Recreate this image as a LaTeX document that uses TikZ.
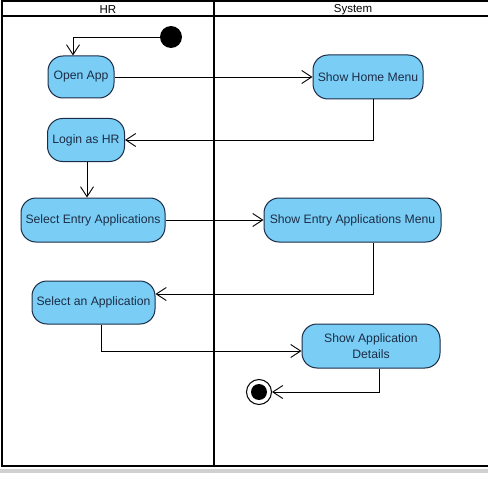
\documentclass[tikz,border=0pt]{standalone}
\usepackage{fontspec}
\setmainfont{Liberation Sans}
\usetikzlibrary{arrows.meta}
\definecolor{actfill}{RGB}{122,206,245}
\definecolor{actline}{RGB}{28,44,70}
\definecolor{strip}{RGB}{208,208,208}

\begin{document}
\begin{tikzpicture}[x=1pt,y=-1pt,>={Straight Barb[length=10pt,width=13pt]}]
      \tikzstyle{lane} = [line width=2pt]
      \tikzstyle{act} = [rectangle, rounded corners=15pt, draw=actline, line width=1pt,
        fill=actfill, text=actline, font=\fontsize{12.2}{16.5}\selectfont, align=center, inner sep=2pt]
      \tikzstyle{flow} = [line width=0.9pt, black]
      \useasboundingbox (0,0) rectangle (488,487);
      % swimlanes
      \fill [strip] (0,469) rectangle (488,473);
      \draw [lane] (488,1)--(2,1)--(2,466)--(488,466);
      \draw [lane] (2,16)--(488,16);
      \draw [lane] (214,1)--(214,466);
      \node (hr) at (108,9.5) {\fontsize{11.5}{13}\selectfont HR};
      \node (sys) at (353,9.5) {\fontsize{11.5}{13}\selectfont System};
      % start and end
      \node (start) [circle, fill=black, minimum size=22pt, inner sep=0pt] at (171,37) {};
      \node (end) [circle, draw, line width=1pt, fill=white, minimum size=25pt, inner sep=0pt] at (259,392) {};
      \node (endin) [circle, fill=black, minimum size=16pt, inner sep=0pt] at (end.center) {};
      % HR
      \node (open) [act, minimum width=66pt, minimum height=42pt] at (81,77) {Open App};
      \node (login) [act, minimum width=77pt, minimum height=43pt] at (86,140) {Login as HR};
      \node (entry) [act, minimum width=144pt, minimum height=44pt] at (93,220) {Select Entry Applications};
      \node (selapp) [act, minimum width=123pt, minimum height=43pt] at (93.5,302.5) {Select an Application};
      % System
      \node (home) [act, minimum width=110pt, minimum height=44pt] at (368,77) {Show Home Menu};
      \node (entrymenu) [act, minimum width=177pt, minimum height=44pt] at (352.5,220) {Show Entry Applications Menu};
      \node (details) [act, minimum width=138pt, minimum height=44pt] at (371,346) {Show Application\\Details};
      % flows
      \draw [flow,->] (start.west) -| ([xshift=-8pt]open.north);
      \draw [flow,->] (open)--(home);
      \draw [flow,->] ([xshift=5pt]home.south) |- (login.east);
      \draw [flow,->] ([xshift=1pt]login.south)--([xshift=1pt]login.south |- entry.north);
      \draw [flow,->] (entry)--(entrymenu);
      \draw [flow,->] ([xshift=20.5pt]entrymenu.south) |- ([yshift=8.5pt]selapp.east);
      \draw [flow,->] ([xshift=7.5pt]selapp.south) |- ([yshift=-5pt]details.west);
      \draw [flow,->] ([xshift=8pt]details.south) |- (end.east);
    \end{tikzpicture}
\end{document}
